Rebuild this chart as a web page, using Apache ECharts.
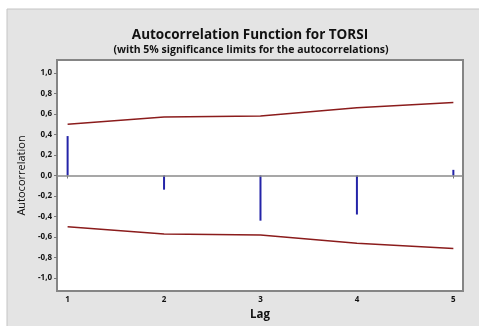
<!DOCTYPE html>
<html><head><meta charset="utf-8">
<script src="https://cdn.jsdelivr.net/npm/echarts@6/dist/echarts.min.js"></script>
<style>html,body{margin:0;padding:0;background:#fff}#c{width:479px;height:326px}</style>
</head><body><div id="c"></div>
<script>
const lags = [1, 2, 3, 4, 5];
const acf = [0.384, -0.138, -0.44, -0.38, 0.055];
const upperLimit = [0.50, 0.57, 0.58, 0.66, 0.71];
const lowerLimit = [-0.50, -0.57, -0.58, -0.66, -0.71];
const yTicks = [-1.0, -0.8, -0.6, -0.4, -0.2, 0.0, 0.2, 0.4, 0.6, 0.8, 1.0];
const xTicks = [1, 2, 3, 4, 5];

const fam = '"Open Sans", "Noto Sans", sans-serif';
const chart = echarts.init(document.getElementById('c'), null, {renderer: 'canvas'});
chart.setOption({
  animation: false,
  backgroundColor: '#ffffff',
  graphic: [{
    type: 'rect', z: -10, silent: true,
    shape: {x: 7, y: 9, width: 480, height: 330},
    style: {fill: '#e4e4e4', stroke: '#c4c4c4', lineWidth: 1}
  }],
  title: [{
    text: 'Autocorrelation Function for TORSI',
    left: 245, top: 23, textAlign: 'center',
    textStyle: {fontFamily: fam, fontSize: 13.5, fontWeight: 'bold', color: '#111'}
  }, {
    text: '(with 5% significance limits for the autocorrelations)',
    left: 246, top: 40, textAlign: 'center',
    textStyle: {fontFamily: fam, fontSize: 10.5, fontWeight: 'bold', color: '#111'}
  }],
  grid: {left: 57, top: 60, right: 16, bottom: 34, show: true, backgroundColor: '#ffffff', borderColor: '#858585', borderWidth: 2},
  xAxis: {
    type: 'value', min: 0.89, max: 5.1,
    name: 'Lag', nameLocation: 'middle', nameGap: 18,
    nameTextStyle: {fontFamily: fam, fontSize: 11.5, fontWeight: 'bold', color: '#111'},
    axisLine: {show: false},
    splitLine: {show: false},
    axisTick: {show: true, length: 3, lineStyle: {color: '#777'}, customValues: xTicks},
    axisLabel: {customValues: xTicks, fontFamily: fam, fontSize: 8, fontWeight: 'bold', color: '#111', margin: 5}
  },
  yAxis: {
    type: 'value', min: -1.125, max: 1.125,
    name: 'Autocorrelation', nameLocation: 'middle', nameGap: 29, nameRotate: 90,
    nameTextStyle: {fontFamily: fam, fontSize: 11, color: '#111'},
    axisLine: {show: false},
    splitLine: {show: false},
    axisTick: {show: true, length: 3, lineStyle: {color: '#777'}, customValues: yTicks},
    axisLabel: {customValues: yTicks, fontFamily: fam, fontSize: 8, fontWeight: 'bold', color: '#111', margin: 5,
      formatter: v => v.toFixed(1).replace('.', ',')}
  },
  series: [{
    type: 'bar', barWidth: 2,
    data: lags.map((l, i) => [l, acf[i]]),
    itemStyle: {color: '#2424a8'},
    markLine: {silent: true, symbol: 'none', label: {show: false},
      lineStyle: {color: '#8a8a8a', width: 1.5, type: 'solid'},
      data: [{yAxis: 0}]}
  }, {
    type: 'line', symbol: 'none',
    data: lags.map((l, i) => [l, upperLimit[i]]),
    lineStyle: {color: '#8b1c1c', width: 1.5}
  }, {
    type: 'line', symbol: 'none',
    data: lags.map((l, i) => [l, lowerLimit[i]]),
    lineStyle: {color: '#8b1c1c', width: 1.5}
  }]
});
</script></body></html>
